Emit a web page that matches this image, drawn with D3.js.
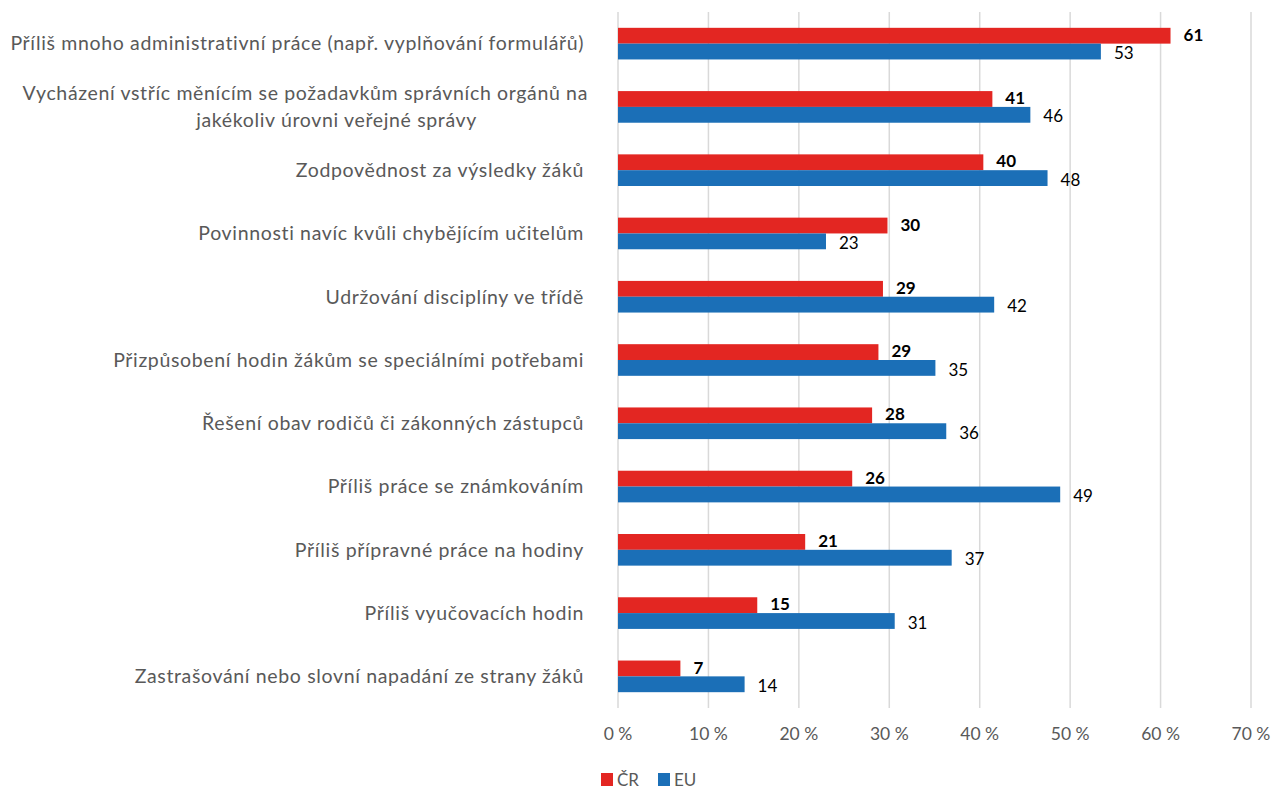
<!DOCTYPE html>
<html>
<head>
<meta charset="utf-8">
<script src="https://cdn.jsdelivr.net/npm/d3@7"></script>
<style>
  body { margin: 0; background: #fff; }
</style>
</head>
<body>
<div id="chart"></div>
<script>
// kategorie (řádky grafu), shora dolů
const categories = [
  ['Příliš mnoho administrativní práce (např. vyplňování formulářů)'],
  ['Vycházení vstříc měnícím se požadavkům správních orgánů na', 'jakékoliv úrovni veřejné správy'],
  ['Zodpovědnost za výsledky žáků'],
  ['Povinnosti navíc kvůli chybějícím učitelům'],
  ['Udržování disciplíny ve třídě'],
  ['Přizpůsobení hodin žákům se speciálními potřebami'],
  ['Řešení obav rodičů či zákonných zástupců'],
  ['Příliš práce se známkováním'],
  ['Příliš přípravné práce na hodiny'],
  ['Příliš vyučovacích hodin'],
  ['Zastrašování nebo slovní napadání ze strany žáků']
];
const valuesCR = [61.1, 41.4, 40.4, 29.8, 29.3, 28.8, 28.1, 25.9, 20.7, 15.4, 6.9];
const valuesEU = [53.4, 45.6, 47.5, 23.0, 41.6, 35.1, 36.3, 48.9, 36.9, 30.6, 14.0];
const ticks = [0, 10, 20, 30, 40, 50, 60, 70];
const seriesNames = ['ČR', 'EU'];

const width = 1274, height = 791;
const red = '#e32622', blue = '#1b6fb7', grey = '#595959';
const font = 'Lato, "Open Sans", sans-serif';

const rows = categories.map((c, i) => ({ i, label: c, cr: valuesCR[i], eu: valuesEU[i] }));

const x = d3.scaleLinear().domain([0, 70]).range([618, 1251]);
const y = d3.scaleBand().domain(d3.range(categories.length)).range([12, 708]).paddingInner(0.5).paddingOuter(0.25);
const sub = d3.scaleBand().domain(seriesNames).range([0, y.bandwidth()]);

const svg = d3.select('#chart').append('svg')
  .attr('width', width)
  .attr('height', height)
  .style('font-family', font);

// mřížka
svg.append('g')
  .selectAll('line')
  .data(ticks)
  .join('line')
  .attr('x1', d => x(d)).attr('x2', d => x(d))
  .attr('y1', 12).attr('y2', 708)
  .attr('stroke', '#d9d9d9')
  .attr('stroke-width', 1.5);

// popisky osy x
svg.append('g')
  .selectAll('text')
  .data(ticks)
  .join('text')
  .attr('x', d => x(d))
  .attr('y', 740)
  .attr('text-anchor', 'middle')
  .attr('fill', grey)
  .style('font-size', '17.5px')
  .text(d => d + ' %');

// sloupce
const g = svg.append('g').selectAll('g')
  .data(rows)
  .join('g')
  .attr('transform', d => `translate(0,${y(d.i)})`);

g.append('rect')
  .attr('x', x(0))
  .attr('y', sub('ČR'))
  .attr('width', d => x(d.cr) - x(0))
  .attr('height', sub.bandwidth())
  .attr('fill', red);

g.append('rect')
  .attr('x', x(0))
  .attr('y', sub('EU'))
  .attr('width', d => x(d.eu) - x(0))
  .attr('height', sub.bandwidth())
  .attr('fill', blue);

// hodnoty
g.append('text')
  .attr('x', d => x(d.cr) + 13)
  .attr('y', sub('ČR') + sub.bandwidth() / 2)
  .attr('dy', '0.3em')
  .attr('fill', '#000')
  .style('font-size', '17px')
  .style('font-weight', 'bold')
  .text(d => d3.format('.0f')(d.cr));

g.append('text')
  .attr('x', d => x(d.eu) + 13)
  .attr('y', sub('EU') + sub.bandwidth() / 2)
  .attr('dy', '0.45em')
  .attr('fill', '#000')
  .style('font-size', '17px')
  .text(d => d3.format('.0f')(d.eu));

// popisky kategorií
const lab = svg.append('g').selectAll('text')
  .data(rows)
  .join('text')
  .attr('text-anchor', 'end')
  .attr('fill', grey)
  .style('font-size', '19.5px')
  .style('letter-spacing', '0.65px');

lab.each(function (d) {
  const t = d3.select(this);
  const cy = y(d.i) + y.bandwidth() / 2;
  const n = d.label.length;
  d.label.forEach((line, k) => {
    const ts = t.append('tspan').text(line);
    if (n === 1) {
      ts.attr('x', 584).attr('y', cy).attr('dy', '0.35em');
    } else {
      ts.attr('x', k === 0 ? 588 : 477).attr('y', cy + (k - (n - 1) / 2) * 27).attr('dy', '0.35em');
    }
  });
});

// legenda
const legend = svg.append('g').attr('transform', 'translate(601,773)');
const li = legend.selectAll('g')
  .data(seriesNames)
  .join('g')
  .attr('transform', (d, i) => `translate(${i * 57},0)`);
li.append('rect')
  .attr('width', 12).attr('height', 13)
  .attr('fill', (d, i) => i === 0 ? red : blue);
li.append('text')
  .attr('x', 16).attr('y', 7).attr('dy', '0.35em')
  .attr('fill', grey)
  .style('font-size', '17px')
  .text(d => d);
</script>
</body>
</html>
